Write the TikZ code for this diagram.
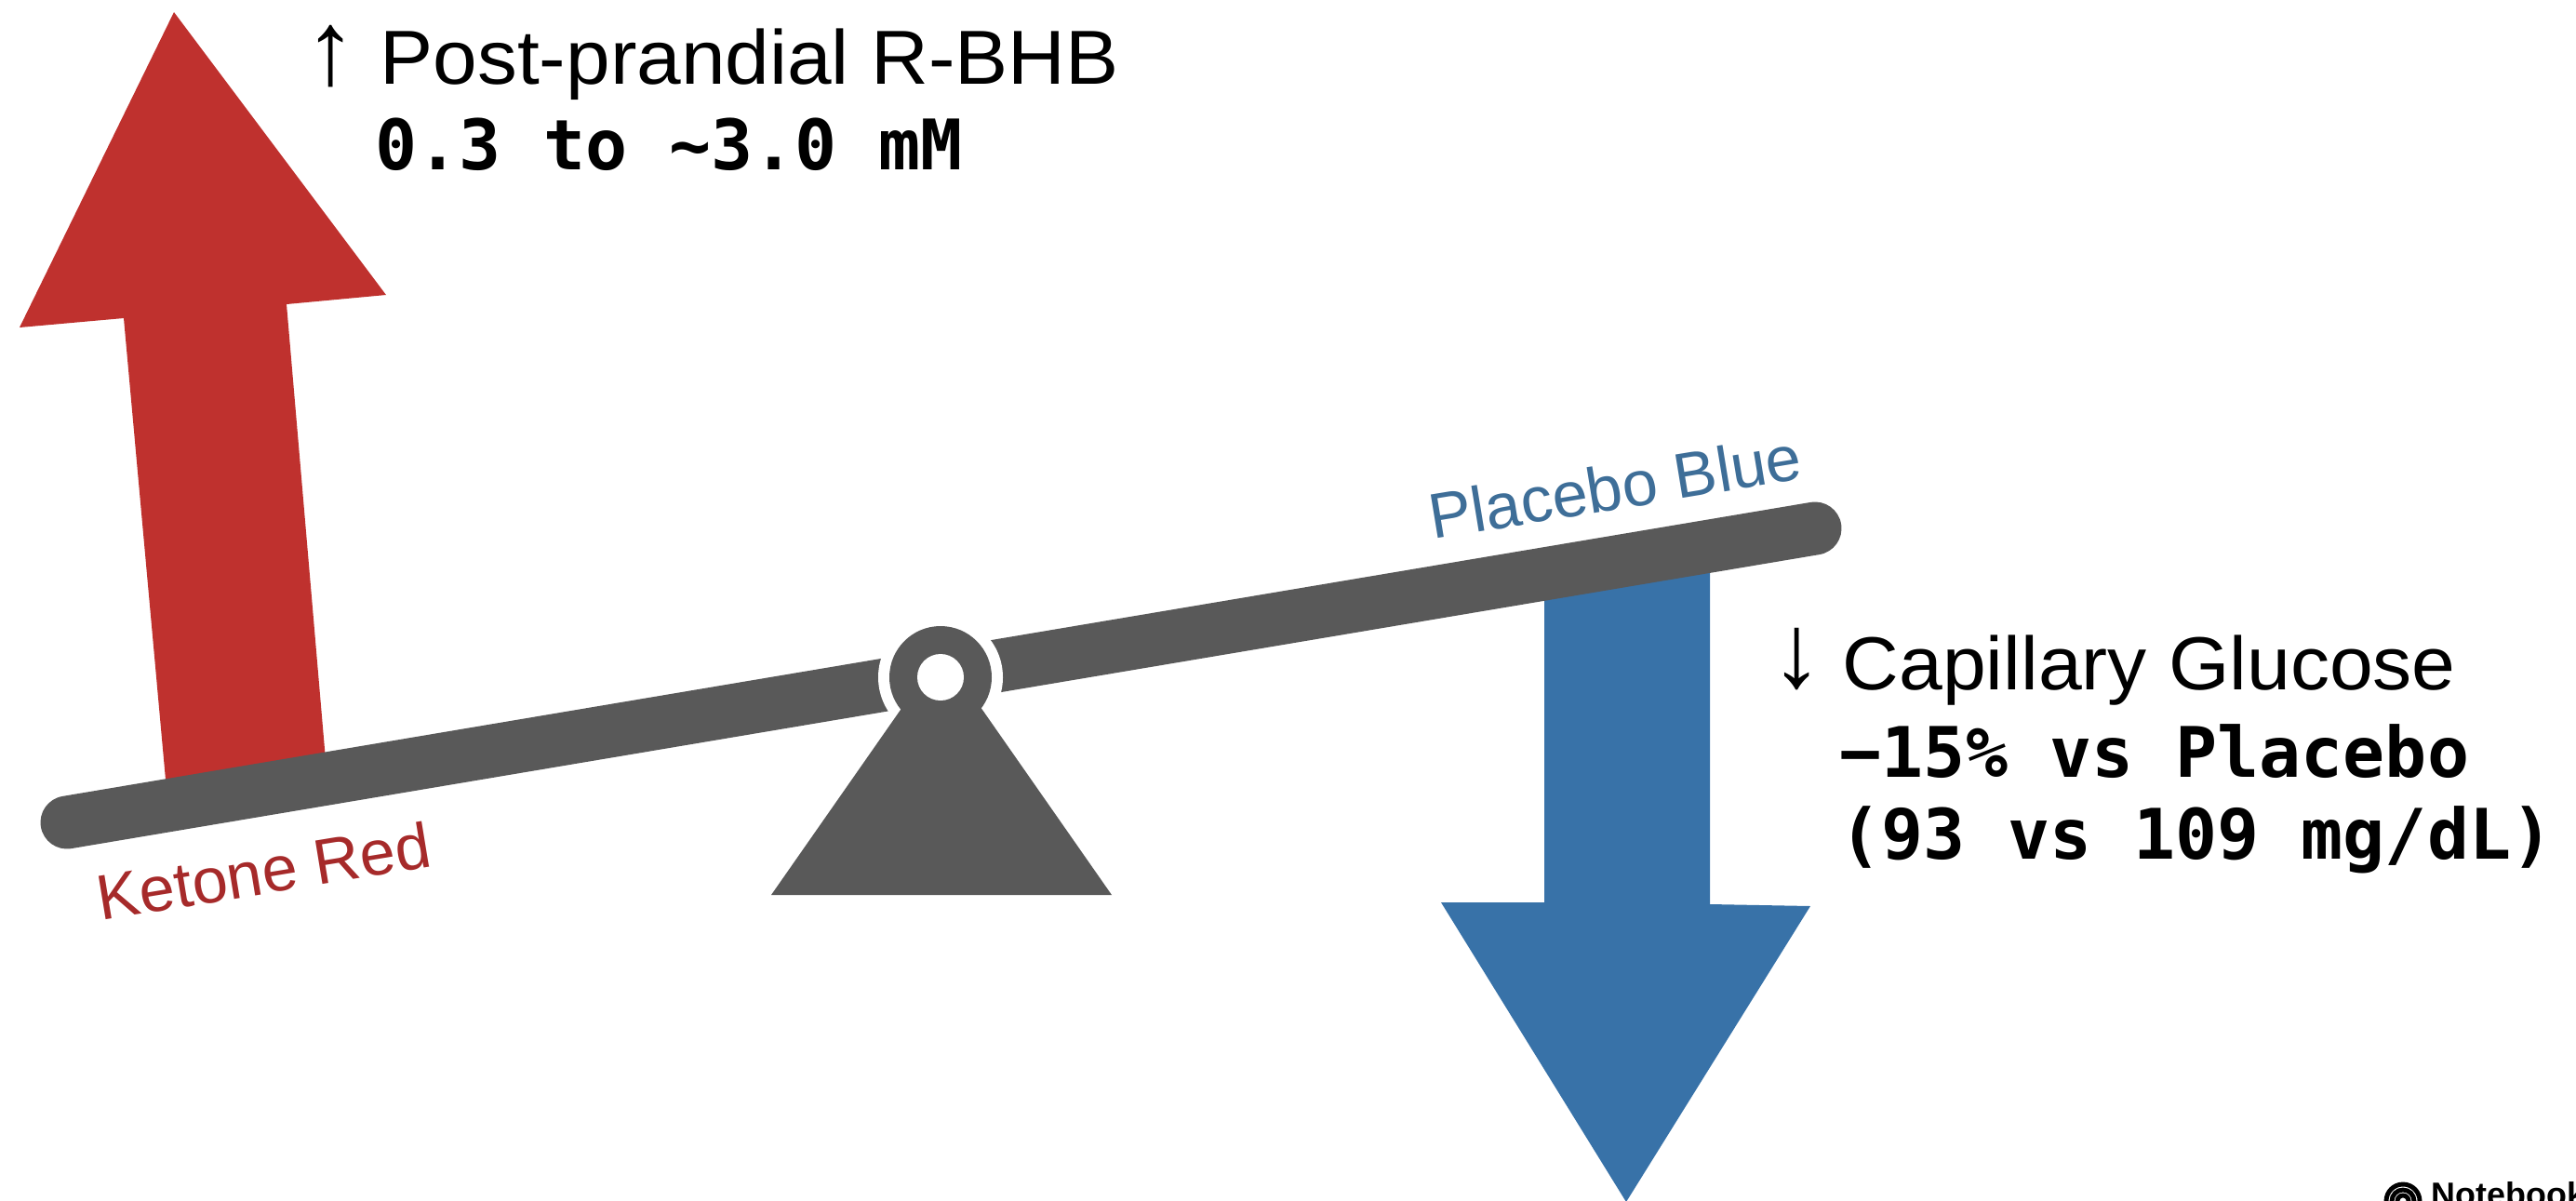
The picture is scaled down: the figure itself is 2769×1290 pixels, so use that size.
\documentclass[tikz,border=0pt]{standalone}
\usepackage{fontspec}
\setmainfont{Liberation Sans}
\setmonofont{DejaVu Sans Mono}
\newfontfamily\widesans{Liberation Sans}[FakeStretch=1.04]
\definecolor{ketarrow}{RGB}{191,49,46}
\definecolor{ketred}{RGB}{166,42,42}
\definecolor{plarrow}{RGB}{56,114,168}
\definecolor{plblue}{RGB}{62,110,152}
\definecolor{beamgray}{RGB}{89,89,89}
\tikzset{
  lbl/.style={inner sep=0pt, anchor=base west, font=\widesans\fontsize{23pt}{27pt}\selectfont},
  glyph/.style={inner sep=0pt, anchor=center, font=\fontsize{32pt}{36pt}\selectfont},
  mono/.style={inner sep=0pt, anchor=base west, font=\ttfamily\bfseries\fontsize{21.3pt}{25pt}\selectfont},
  tag/.style={inner sep=0pt, anchor=base west, rotate=9.3, font=\fontsize{19.5pt}{23pt}\selectfont},
  beam/.style={draw=beamgray, line width=16.2pt, line cap=round},
}
\begin{document}
\begin{tikzpicture}[x=0.01cm, y=-0.01cm]
\useasboundingbox[fill=white] (0,0) rectangle (2769,1290);
% arrows (behind the beam)
\fill[ketarrow] (187,13) -- (415,317) -- (308,327) -- (352,840) -- (180,860) -- (133,342) -- (21,352) -- cycle;
\fill[plarrow] (1660,622) -- (1838,592) -- (1838,972) -- (1946,974) -- (1748,1292) -- (1549,970) -- (1660,970) -- cycle;
% beam
\coordinate (bl) at (72,884);
\coordinate (br) at (1951,568);
\draw[beam] (bl) -- (br);
% pivot
\coordinate (piv) at (1011,728);
\fill[white] (piv) circle[radius=67];
\fill[beamgray] (1012,700) -- (1195,962) -- (829,962) -- cycle;
\fill[beamgray] (piv) circle[radius=55];
\fill[white] (piv) circle[radius=25];
% labels on the beam
\node[tag, text=ketred] (kr) at (108,990) {Ketone Red};
\node[tag, text=plblue] (pb) at (1540,580) {Placebo Blue};
% top-left text
\node[glyph] (upar) at (356,61) {↑};
\node[lbl, font=\widesans\fontsize{23.4pt}{27pt}\selectfont] (t1) at (408,90) {Post-prandial R-BHB};
\node[mono] (t2) at (403,182) {0.3 to \textasciitilde3.0 mM};
% right text
\node[glyph] (dnar) at (1932,709) {↓};
\node[lbl] (b1) at (1980,741) {Capillary Glucose};
\node[mono] (b2) at (1977,835) {−15\% vs Placebo};
\node[mono] (b3) at (1977,923) {(93 vs 109 mg/dL)};
% watermark
\coordinate (ic) at (2583,1291);
\draw[line width=1.4pt] (ic) circle[radius=6] (ic) circle[radius=12] (ic) circle[radius=18];
\node[inner sep=0pt, anchor=base west, font=\bfseries\fontsize{10.2pt}{12pt}\selectfont] (nb) at (2613,1296) {NotebookLM};
\end{tikzpicture}
\end{document}
